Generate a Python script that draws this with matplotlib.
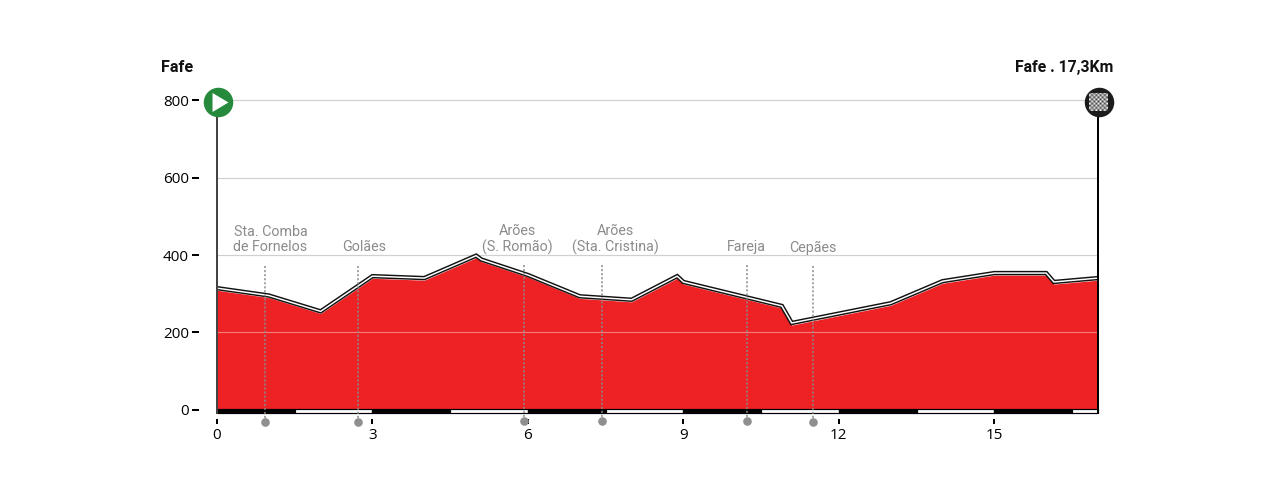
import numpy as np
import matplotlib
matplotlib.use("Agg")
import matplotlib.pyplot as plt

km = [0, 1, 2, 3, 4, 5, 5.1, 6, 7, 8, 8.88, 9, 10.9, 11.09, 13, 14, 15, 16, 16.15, 17]
elev = [309, 290, 249, 340, 335, 393, 383, 343, 288, 279, 340, 325, 263, 219, 270, 327, 348, 348, 325, 335]
y_ticks = [0, 200, 400, 600, 800]
x_ticks = [0, 3, 6, 9, 12, 15]
band_starts = [0, 1.5, 3, 4.5, 6, 7.5, 9, 10.5, 12, 13.5, 15, 16.5]
band_widths = [1.5] * 11 + [0.5]
band_colors = ['black', 'white'] * 6
place_names = ["Sta. Comba\nde Fornelos", "Golães", "Arões\n(S. Romão)", "Arões\n(Sta. Cristina)", "Fareja", "Cepães"]
place_km = [0.926, 2.73, 5.92, 7.42, 10.22, 11.5]
place_dot = [-32, -32, -29, -29, -28, -32]
label_km = [1.03, 2.83, 5.79, 7.68, 10.22, 11.5]
label_y = [439.5, 420.5, 439.5, 439.5, 420.5, 418.5]

W, H = 1280, 488
PX = 0.72
GREY = '#8b8b8b'
RED = '#ee2124'
fig = plt.figure(figsize=(W/100, H/100), dpi=100, facecolor='white')
left, right, top, bottom = 217, 1098, 100.3, 413.2
ax = fig.add_axes([left/W, 1-bottom/H, (right-left)/W, (bottom-top)/H])
m_per_px = 800/(409.8-100.3)
ax.set_xlim(0, 17)
ax.set_ylim(-(bottom-409.8)*m_per_px, 800)
ax.patch.set_alpha(0)
for s in ['top', 'right', 'left', 'bottom']:
    ax.spines[s].set_visible(False)

# grid
for t in y_ticks[1:]:
    ax.axhline(t, color='#d0d0d0', lw=1.2*PX, zorder=1, clip_on=False)
ax.fill_between(km, -5, elev, color=RED, lw=0, zorder=2)
ax.axhline(200, color='white', alpha=0.4, lw=1.2*PX, zorder=3)

# double stroke on the ridge
ridge = np.array(elev) + 2.1*m_per_px
ax.plot(km, ridge, color='#111111', lw=4.4*PX, zorder=4, solid_joinstyle='miter')
ax.plot(km, ridge, color='white', lw=1.5*PX, zorder=5, solid_joinstyle='miter')

# distance band
ax.bar(band_starts, [12]*12, width=band_widths, bottom=-9, align='edge',
       color=band_colors, edgecolor='black', lw=1.2*PX, zorder=6, clip_on=False)

# boundaries
ax.plot([0, 0], [-9, 795], color='#444444', lw=2*PX, zorder=7, clip_on=False)
ax.plot([17, 17], [-9, 795], color='black', lw=2*PX, zorder=7, clip_on=False)

# places
for x, d in zip(place_km, place_dot):
    ax.plot([x, x], [d, 374], color=GREY, lw=1.5*PX, ls=(0, (1.4, 1.3)), zorder=8, clip_on=False)
ax.scatter(place_km, place_dot, s=(8.6*PX)**2, color='#8f8f8f', lw=0, zorder=9, clip_on=False)
for name, x, y in zip(place_names, label_km, label_y):
    ax.text(x, y, name, ha='center', va='center', color=GREY, fontsize=10.3,
            family='Roboto', linespacing=1.13, zorder=9)

# axis ticks
ax.set_yticks(y_ticks)
ax.set_xticks(x_ticks)
ax.spines['left'].set_position(('outward', 18*PX))
ax.spines['bottom'].set_position(('outward', 6*PX))
ax.tick_params(axis='y', length=7*PX, width=2*PX, pad=3*PX, labelsize=11, labelfontfamily='Open Sans')
ax.tick_params(axis='x', length=5*PX, width=2*PX, pad=4*PX, labelsize=11, labelfontfamily='Open Sans')

# start and finish badges
play = [(-0.84, 1), (-0.84, -1), (0.84, 0)]
ax.scatter([0.02], [796], s=(29.5*PX)**2, color='#268a3c', lw=0, zorder=10, clip_on=False)
ax.scatter([0.058], [796], s=(19*PX)**2, marker=play, color='white', lw=0, zorder=11, clip_on=False)
ax.scatter([17.01], [796], s=(29.5*PX)**2, color='#1c1c1c', lw=0, zorder=10, clip_on=False)

# checkered flag inside the finish badge
cx, cy, side = 1098.8, 102, 19
cax = fig.add_axes([(cx-side/2)/W, 1-(cy+side/2)/H, side/W, side/H], zorder=5)
checks = np.indices((9, 9)).sum(axis=0) % 2
checks[[0, 0, 8, 8], [0, 8, 0, 8]] = 0
cax.imshow(checks, cmap='gray', vmin=-0.25, vmax=1, interpolation='bilinear', aspect='auto')
cax.axis('off')
cax.patch.set_alpha(0)

fig.text(161/W, 1-67.5/H, "Fafe", ha='left', va='center', fontsize=11.6, fontweight='bold', family='Roboto', color='#111111')
fig.text(1113/W, 1-67.5/H, "Fafe . 17,3Km", ha='right', va='center', fontsize=11.3, fontweight='bold', family='Roboto', color='#111111')

fig.savefig('out.png', dpi=100)
